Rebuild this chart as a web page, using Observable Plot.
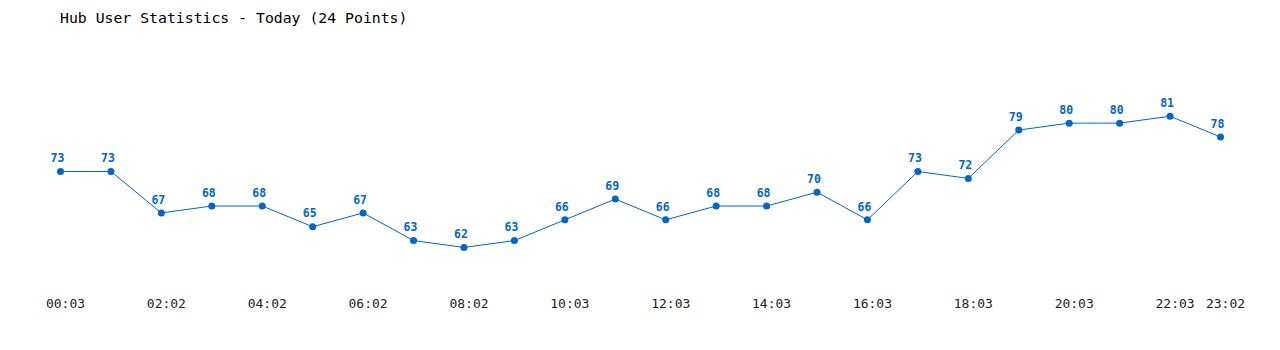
<!DOCTYPE html>
<html>
<head>
<meta charset="utf-8">
<script src="https://cdn.jsdelivr.net/npm/d3@7"></script>
<script src="https://cdn.jsdelivr.net/npm/@observablehq/plot@0.6"></script>
<style>
  html, body { margin: 0; padding: 0; background: #fff; }
  #wrap { position: relative; width: 1280px; height: 350px; }
  #title { position: absolute; left: 60px; top: 11px; font: 14.8px/14.8px "DejaVu Sans Mono", monospace; color: #000; white-space: pre; }
</style>
</head>
<body>
<div id="wrap">
  <div id="title">Hub User Statistics - Today (24 Points)</div>
  <div id="chart"></div>
</div>
<script>
const values = [73, 73, 67, 68, 68, 65, 67, 63, 62, 63, 66, 69, 66, 68, 68, 70, 66, 73, 72, 79, 80, 80, 81, 78];
const tickIndex = [0, 2, 4, 6, 8, 10, 12, 14, 16, 18, 20, 22, 23];
const tickLabels = ["00:03", "02:02", "04:02", "06:02", "08:02", "10:03", "12:03", "14:03", "16:03", "18:03", "20:03", "22:03", "23:02"];

const data = values.map((v, i) => ({i, v}));
const color = "#0066CC";

const chart = Plot.plot({
  width: 1280,
  height: 350,
  marginLeft: 60,
  marginRight: 60,
  marginTop: 88.1,
  marginBottom: 68.5,
  style: {background: "transparent", overflow: "visible"},
  x: {type: "linear", domain: [0, 23], axis: null},
  y: {domain: [57, 85], axis: null},
  marks: [
    Plot.axisX(tickIndex, {
      label: null,
      tickSize: 0,
      tickPadding: 17,
      dx: 5,
      tickFormat: (d) => tickLabels[tickIndex.indexOf(d)],
      fontFamily: "DejaVu Sans Mono",
      fontSize: 13,
      fill: "#222"
    }),
    Plot.line(data, {x: "i", y: "v", stroke: color, strokeWidth: 1}),
    Plot.dot(data, {x: "i", y: "v", r: 3.5, fill: color, stroke: "none"}),
    Plot.text(data, {
      x: "i", y: "v", text: (d) => String(d.v),
      dy: -13, dx: -3,
      fill: color, fontWeight: "bold",
      fontFamily: "DejaVu Sans Mono", fontSize: 11.5
    })
  ]
});
document.getElementById("chart").appendChild(chart);
</script>
</body>
</html>
